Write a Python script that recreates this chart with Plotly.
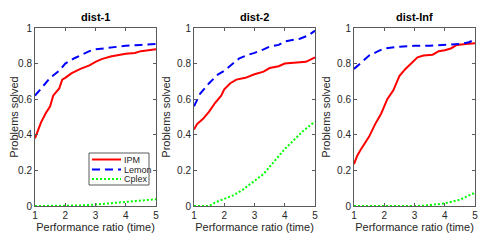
import plotly.graph_objects as go

# ---- data ----
titles = ["dist-1", "dist-2", "dist-Inf"]
series_names = ["IPM", "Lemon", "Cplex"]

# dist-1
d1_ipm_x = [1.0, 1.1, 1.2, 1.35, 1.5, 1.6, 1.7, 1.8, 1.9, 2.0, 2.2, 2.5, 2.8, 3.0, 3.2, 3.5, 4.0, 4.3, 4.5, 5.0]
d1_ipm_y = [0.38, 0.43, 0.47, 0.52, 0.56, 0.62, 0.64, 0.66, 0.71, 0.72, 0.745, 0.77, 0.79, 0.81, 0.825, 0.84, 0.855, 0.86, 0.87, 0.88]
d1_lem_x = [1.0, 1.1, 1.2, 1.5, 1.8, 2.0, 2.3, 2.5, 2.8, 3.0, 3.5, 4.0, 4.5, 5.0]
d1_lem_y = [0.62, 0.64, 0.66, 0.72, 0.76, 0.80, 0.83, 0.845, 0.87, 0.88, 0.89, 0.90, 0.905, 0.91]
d1_cpx_x = [1.0, 1.5, 2.0, 2.5, 3.0, 3.5, 4.0, 4.5, 5.0]
d1_cpx_y = [0.0, 0.0, 0.0, 0.003, 0.008, 0.015, 0.022, 0.028, 0.038]

# dist-2
d2_ipm_x = [1.0, 1.1, 1.3, 1.5, 1.7, 1.9, 2.0, 2.2, 2.4, 2.7, 3.0, 3.3, 3.5, 3.8, 4.0, 4.3, 4.7, 5.0]
d2_ipm_y = [0.43, 0.46, 0.49, 0.53, 0.58, 0.62, 0.655, 0.69, 0.71, 0.72, 0.74, 0.755, 0.775, 0.785, 0.80, 0.805, 0.81, 0.835]
d2_lem_x = [1.0, 1.2, 1.5, 1.8, 2.0, 2.3, 2.5, 2.8, 3.0, 3.3, 3.5, 3.8, 4.0, 4.5, 4.8, 5.0]
d2_lem_y = [0.56, 0.63, 0.69, 0.74, 0.76, 0.80, 0.83, 0.85, 0.86, 0.88, 0.895, 0.905, 0.925, 0.94, 0.96, 0.985]
d2_cpx_x = [1.0, 1.5, 1.7, 2.0, 2.3, 2.6, 3.0, 3.3, 3.6, 4.0, 4.3, 4.6, 5.0]
d2_cpx_y = [0.0, 0.0, 0.02, 0.04, 0.06, 0.09, 0.14, 0.18, 0.24, 0.32, 0.37, 0.42, 0.475]

# dist-Inf
d3_ipm_x = [1.0, 1.1, 1.2, 1.4, 1.5, 1.7, 1.9, 2.0, 2.1, 2.3, 2.5, 2.7, 2.9, 3.1, 3.3, 3.6, 3.8, 4.0, 4.2, 4.4, 4.7, 5.0]
d3_ipm_y = [0.235, 0.28, 0.31, 0.36, 0.39, 0.46, 0.52, 0.56, 0.60, 0.65, 0.73, 0.77, 0.80, 0.835, 0.845, 0.85, 0.87, 0.875, 0.885, 0.905, 0.91, 0.915]
d3_lem_x = [1.0, 1.2, 1.5, 1.8, 2.0, 2.5, 3.0, 3.5, 4.0, 4.5, 4.8, 5.0]
d3_lem_y = [0.77, 0.80, 0.845, 0.87, 0.885, 0.895, 0.90, 0.90, 0.905, 0.91, 0.92, 0.935]
d3_cpx_x = [1.0, 2.0, 3.1, 3.5, 4.0, 4.5, 5.0]
d3_cpx_y = [0.0, 0.0, 0.0, 0.005, 0.015, 0.035, 0.075]

panels = [
    [(d1_ipm_x, d1_ipm_y), (d1_lem_x, d1_lem_y), (d1_cpx_x, d1_cpx_y)],
    [(d2_ipm_x, d2_ipm_y), (d2_lem_x, d2_lem_y), (d2_cpx_x, d2_cpx_y)],
    [(d3_ipm_x, d3_ipm_y), (d3_lem_x, d3_lem_y), (d3_cpx_x, d3_cpx_y)],
]

x_ticks = [1, 2, 3, 4, 5]
y_ticks = [0, 0.2, 0.4, 0.6, 0.8, 1]
y_tick_labels = ["0", "0.2", "0.4", "0.6", "0.8", "1"]

# ---- styles / layout (page pixels; the page body adds an 8px offset) ----
colors = ["#ff0000", "#0000ff", "#00ff00"]
dashes = ["solid", "8px,5px", "2px,2px"]
OFF = 8
W, H = 498 - OFF, 252 - OFF


def px(x):
    return (x - OFF) / W


def py(y):
    return (H - (y - OFF)) / H


x_domains = [(px(35), px(156)), (px(194), px(315)), (px(354), px(475))]
y_domain = (py(206), py(28))
font = "Liberation Sans, Arial, sans-serif"
axcol = "#5a5a5a"
txtcol = "#262626"

fig = go.Figure()
for i, panel in enumerate(panels):
    xa = "x" if i == 0 else f"x{i+1}"
    ya = "y" if i == 0 else f"y{i+1}"
    for j, (xs, ys) in enumerate(panel):
        fig.add_trace(go.Scatter(
            x=xs, y=ys, mode="lines", name=series_names[j],
            line=dict(color=colors[j], width=2, dash=dashes[j]),
            xaxis=xa, yaxis=ya, showlegend=False,
        ))
    axis_common = dict(showline=True, linecolor=axcol, linewidth=1, mirror="ticks",
                       ticks="inside", ticklen=3, tickcolor=axcol, showgrid=False,
                       zeroline=False, automargin=False,
                       tickfont=dict(family=font, size=10, color=txtcol))
    xkey = "xaxis" if i == 0 else f"xaxis{i+1}"
    ykey = "yaxis" if i == 0 else f"yaxis{i+1}"
    fig.update_layout(**{
        xkey: dict(domain=list(x_domains[i]), anchor=ya, range=[1, 5],
                   tickvals=x_ticks, title=dict(text="Performance ratio (time)",
                   font=dict(family=font, size=11, color=txtcol), standoff=2),
                   **axis_common),
        ykey: dict(domain=list(y_domain), anchor=xa, range=[0, 1],
                   tickvals=y_ticks, ticktext=y_tick_labels,
                   title=dict(text="Problems solved",
                   font=dict(family=font, size=11, color=txtcol), standoff=4),
                   **axis_common),
    })
    fig.add_annotation(text=f"<b>{titles[i]}</b>", xref="paper", yref="paper",
                       x=sum(x_domains[i]) / 2, y=py(17), showarrow=False,
                       font=dict(family=font, size=11, color="black"),
                       xanchor="center", yanchor="middle")

# ---- custom compact legend (panel 1) ----
fig.add_shape(type="rect", xref="paper", yref="paper",
              x0=px(89), x1=px(149), y0=py(185), y1=py(153),
              line=dict(color=axcol, width=1), fillcolor="white", layer="above")
entry_y = [159.5, 169.5, 179]
for j, name in enumerate(series_names):
    yy = py(entry_y[j])
    fig.add_shape(type="line", xref="paper", yref="paper",
                  x0=px(92), x1=px(121), y0=yy, y1=yy, layer="above",
                  line=dict(color=colors[j], width=2, dash=dashes[j]))
    fig.add_annotation(text=name, xref="paper", yref="paper", x=px(122), y=yy,
                       xanchor="left", yanchor="middle", showarrow=False,
                       font=dict(family=font, size=9, color=txtcol))

fig.update_layout(
    width=W, height=H, margin=dict(l=0, r=0, t=0, b=0),
    paper_bgcolor="white", plot_bgcolor="white", showlegend=False,
)

fig.write_html("out.html")
